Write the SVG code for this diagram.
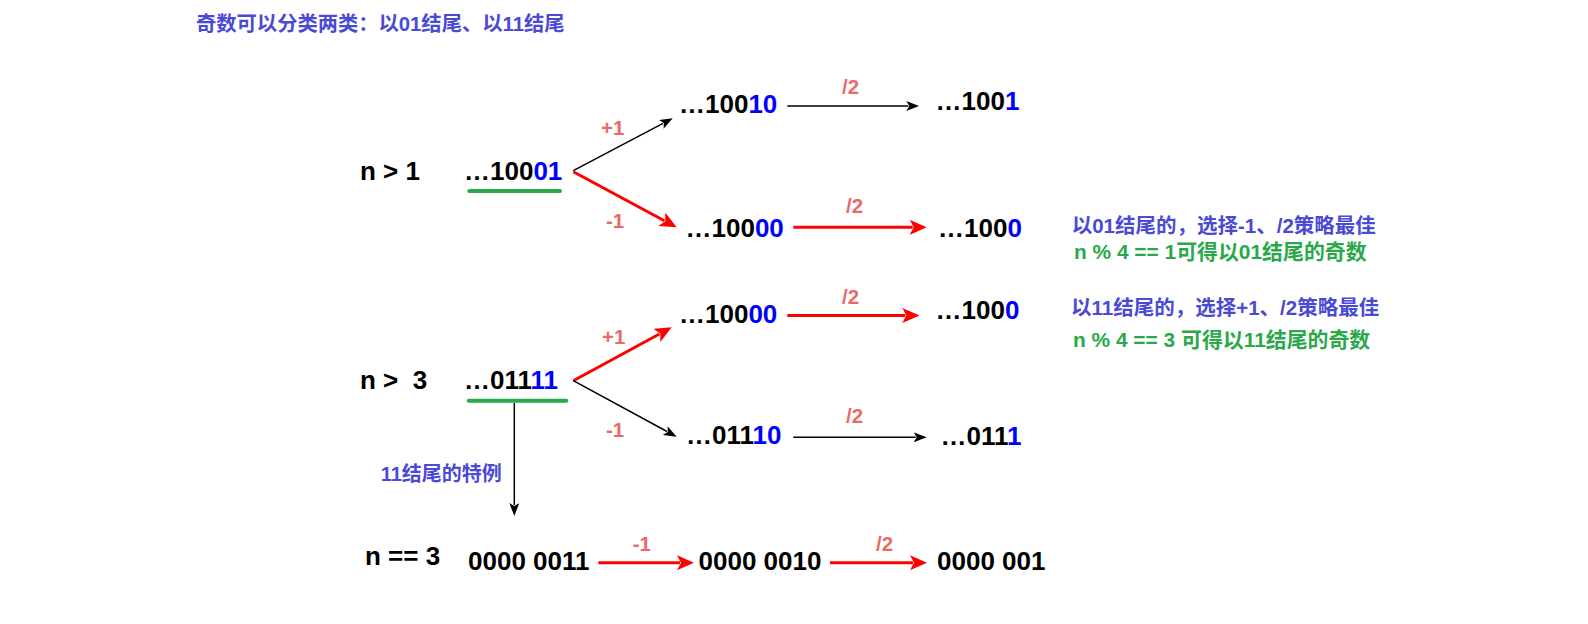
<svg xmlns="http://www.w3.org/2000/svg" width="1588" height="624" viewBox="0 0 1588 624">
<style>
.num{font-family:"Liberation Sans",Arial,sans-serif;font-weight:bold;font-size:26px;fill:#000}
.b{fill:#0000FF}
.lbl{font-family:"Liberation Sans",Arial,sans-serif;font-weight:bold;font-size:20.5px;fill:#EA6B66}
.cn{font-family:"Liberation Sans","Noto Sans CJK SC",sans-serif;font-weight:bold;font-size:20px}
.t{font-size:20.3px}
.n1{font-size:20.5px}
.n2{font-size:20.9px}
.pu{fill:#4A4AD4}
.gr{fill:#2AA94B}
.blk{stroke:#000;stroke-width:1.5;fill:none}
.red{stroke:#FF0000;stroke-width:3;fill:none}
.ul{stroke:#2AA94B;stroke-width:4;stroke-linecap:round}
</style>
<defs>
<marker id="ab" markerUnits="userSpaceOnUse" markerWidth="13" markerHeight="10" refX="2" refY="5" orient="auto"><path d="M0,0 L13,5 L0,10 L3,5 z" fill="#000"/></marker>
<marker id="ar" markerUnits="userSpaceOnUse" markerWidth="17" markerHeight="15" refX="3" refY="7.5" orient="auto"><path d="M0,0 L17,7.5 L0,15 L4,7.5 z" fill="#FF0000"/></marker>
</defs>
<rect width="1588" height="624" fill="#fff"/>
<g id="title"><text class="cn t pu" x="196" y="31">奇数可以分类两类：以01结尾、以11结尾</text></g>

<g id="cond1"><text class="num" x="360" y="180">n &gt; 1</text></g>
<g id="n10001"><text class="num" x="464" y="180">…100<tspan class="b">01</tspan></text><line class="ul" x1="469.3" y1="191" x2="560" y2="191"/></g>
<g id="n10010"><text class="num" x="679" y="113">…100<tspan class="b">10</tspan></text></g>
<g id="n1001"><text class="num" x="935.5" y="110">…100<tspan class="b">1</tspan></text></g>
<g id="n10000a"><text class="num" x="685.5" y="236.7">…100<tspan class="b">00</tspan></text></g>
<g id="n1000a"><text class="num" x="938" y="236.7">…100<tspan class="b">0</tspan></text></g>
<g id="note1"><text class="cn n1 pu" x="1071.7" y="233">以01结尾的，选择-1、/2策略最佳</text><text class="cn n2 gr" x="1074" y="259">n % 4 == 1可得以01结尾的奇数</text></g>

<g id="cond3"><text class="num" x="360" y="389" xml:space="preserve">n &gt;  3</text></g>
<g id="n01111"><text class="num" x="464" y="389.3">…011<tspan class="b">11</tspan></text><line class="ul" x1="468.7" y1="400.7" x2="566.3" y2="400.7"/></g>
<g id="n10000b"><text class="num" x="679" y="323.3">…100<tspan class="b">00</tspan></text></g>
<g id="n1000b"><text class="num" x="935.5" y="318.5">…100<tspan class="b">0</tspan></text></g>
<g id="n01110"><text class="num" x="686" y="444">…011<tspan class="b">10</tspan></text></g>
<g id="n0111"><text class="num" x="940.5" y="445">…011<tspan class="b">1</tspan></text></g>
<g id="note2"><text class="cn n1 pu" x="1071" y="315">以11结尾的，选择+1、/2策略最佳</text><text class="cn n2 gr" x="1073" y="347">n % 4 == 3 可得以11结尾的奇数</text></g>

<g id="special"><text class="cn pu" x="380.7" y="481">11结尾的特例</text></g>
<g id="cond0"><text class="num" x="365" y="565">n == 3</text></g>
<g id="b0011"><text class="num" x="468" y="570">0000 0011</text></g>
<g id="b0010"><text class="num" x="698.5" y="570">0000 0010</text></g>
<g id="b001"><text class="num" x="937" y="570">0000 001</text></g>

<g id="connectors">
<line class="blk" x1="573.3" y1="170.7" x2="663.0" y2="123.4" marker-end="url(#ab)"/>
<line class="red" x1="573.3" y1="171.7" x2="664.4" y2="220.7" marker-end="url(#ar)"/>
<line class="blk" x1="787.3" y1="106" x2="908.3" y2="106" marker-end="url(#ab)"/>
<line class="red" x1="793.3" y1="227.3" x2="912.7" y2="227.3" marker-end="url(#ar)"/>
<line class="red" x1="573.3" y1="380.7" x2="659.4" y2="334.0" marker-end="url(#ar)"/>
<line class="blk" x1="573.3" y1="380.7" x2="667.0" y2="431.5" marker-end="url(#ab)"/>
<line class="red" x1="787.3" y1="315.5" x2="905.3" y2="315.5" marker-end="url(#ar)"/>
<line class="blk" x1="793.3" y1="437.3" x2="915.7" y2="437.3" marker-end="url(#ab)"/>
<line class="blk" x1="514.3" y1="403" x2="514.3" y2="505" marker-end="url(#ab)"/>
<line class="red" x1="598.3" y1="562.7" x2="680" y2="562.7" marker-end="url(#ar)"/>
<line class="red" x1="830" y1="562.7" x2="913" y2="562.7" marker-end="url(#ar)"/>
<text class="lbl" x="601" y="135">+1</text>
<text class="lbl" x="606" y="228">-1</text>
<text class="lbl" x="842" y="94">/2</text>
<text class="lbl" x="846" y="212.7">/2</text>
<text class="lbl" x="602" y="344">+1</text>
<text class="lbl" x="606" y="437">-1</text>
<text class="lbl" x="842" y="304">/2</text>
<text class="lbl" x="846" y="422.5">/2</text>
<text class="lbl" x="632.7" y="550.7">-1</text>
<text class="lbl" x="876" y="551">/2</text>
</g>
</svg>
